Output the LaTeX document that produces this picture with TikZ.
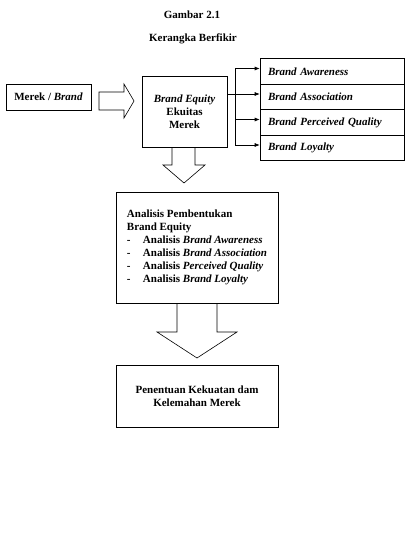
\documentclass[tikz,border=0pt]{standalone}
\usepackage{fontspec}
\setmainfont{Liberation Serif}
\usetikzlibrary{positioning,calc,arrows.meta}
\newcommand\figfont{\fontsize{11}{13}\selectfont\bfseries}
\tikzset{
  box/.style={draw, line width=0.6pt, inner sep=0pt, font=\figfont},
  item/.style={box, minimum width=144pt, minimum height=25.5pt, inner xsep=8pt,
    text width=128pt, align=left, font=\figfont\itshape},
  blockarrow/.style={draw, line width=0.6pt, line join=miter},
  link/.style={draw, line width=0.6pt, -{Latex[length=5pt,width=4pt]}}
}
\begin{document}
\begin{tikzpicture}[x=1pt,y=-1pt]
\useasboundingbox (0,0) rectangle (407,535);
\node[font=\figfont] (title) at (192,15) {Gambar 2.1};
\node[font=\figfont] (subtitle) at (193,39) {Kerangka Berfikir};

\node[box, minimum width=85pt, minimum height=26pt] (brand) at (48.5,97) {Merek / \textit{Brand}};
\node[box, minimum width=85pt, minimum height=71pt, align=center] (eq) at (184.5,111.5) {\textit{Brand Equity}\\Ekuitas\\Merek};

\node[item] (aw) at (332,71.5) {Brand Awareness};
\node[item] (as) at (332,97) {Brand Association};
\node[item] (pq) at (332,122.5) {Brand Perceived Quality};
\node[item] (lo) at (332,148) {Brand Loyalty};

\node[box, minimum width=162pt, minimum height=111pt, align=left] (an) at (197,247.5)
  {Analisis Pembentukan\\Brand Equity\\
   \makebox[16pt][l]{-}Analisis \textit{Brand Awareness}\\
   \makebox[16pt][l]{-}Analisis \textit{Brand Association}\\
   \makebox[16pt][l]{-}Analisis \textit{Perceived Quality}\\
   \makebox[16pt][l]{-}Analisis \textit{Brand Loyalty}};
\node[box, minimum width=162pt, minimum height=62pt, align=center] (res) at (197,396)
  {Penentuan Kekuatan dam\\Kelemahan Merek};

% block arrows
\draw[blockarrow] (99,92) -- (124,92) -- (124,84) -- (134,101) -- (124,118) -- (124,110) -- (99,110) -- cycle;
\draw[blockarrow] (172,147) -- (172,165) -- (163,165) -- (184,183) -- (205,165) -- (195,165) -- (195,147);
\draw[blockarrow] (177,303) -- (177,332) -- (157,332) -- (197,358) -- (237,332) -- (217,332) -- (217,303);

% links to the four dimensions
\coordinate (bus) at (235,0);
\path[draw, line width=0.6pt] ([yshift=3pt]bus |- aw) -- ([yshift=3pt]bus |- lo);
\path[link] ([yshift=3pt]eq.east |- as) -- ([yshift=3pt]as.west);
\path[link] ([yshift=3pt]bus |- aw) -- ([yshift=3pt]aw.west);
\path[link] ([yshift=3pt]bus |- pq) -- ([yshift=3pt]pq.west);
\path[link] ([yshift=3pt]bus |- lo) -- ([yshift=3pt]lo.west);
\end{tikzpicture}
\end{document}
